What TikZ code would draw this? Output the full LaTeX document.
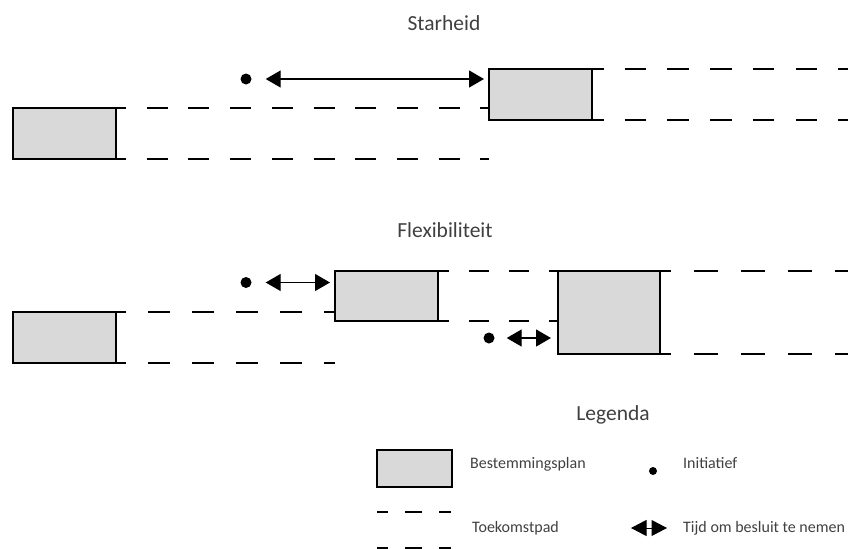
\documentclass[tikz,border=0pt]{standalone}
\usepackage{fontspec}
\setmainfont{Carlito}
\usetikzlibrary{arrows.meta, positioning, calc}
\definecolor{plangray}{RGB}{217,217,217}
\definecolor{textgray}{RGB}{64,64,64}

\begin{document}
\begin{tikzpicture}[x=1pt, y=-1pt,
    plan/.style={draw=black, fill=plangray, line width=1.4pt, inner sep=0pt, outer sep=0pt, minimum width=103pt, minimum height=51pt},
    pad/.style={line width=1.3pt},
    initiatief/.style={circle, fill=black, inner sep=0pt, minimum size=11pt},
    tijd/.style={<->, >={Triangle[length=15pt, width=17pt]}, line width=1.3pt},
    titel/.style={font=\fontsize{21.5}{26}\selectfont, text=textgray, inner sep=0pt, anchor=base},
    legtekst/.style={font=\fontsize{16}{19}\selectfont, text=textgray, inner sep=0pt, anchor=base west}]
        \useasboundingbox (0,0) rectangle (860,549);

        % Starheid
        \node[titel] (starheid) at (444,30) {Starheid};
        \node[plan] (s1) at (64.5,133.5) {};
        \node[plan] (s2) at (540.5,94.5) {};
        \node[initiatief] (s0) at (246,79) {};
        \coordinate (s1eind) at (489,159);
        \coordinate (s2boven) at (848,69);
        \coordinate (s2onder) at (848,120);

        \draw[tijd, shorten <=14pt, shorten >=5pt] (s0.east) -- (s0 -| s2.west);
        \draw[pad, dash pattern=on 21pt off 20.7pt, dash phase=11pt] (s1.north east) -- (s1.north east -| s2.west);
        \draw[pad, dash pattern=on 21pt off 20.7pt, dash phase=11pt] (s1.south east) -- (s1eind);
        \draw[pad, dash pattern=on 21.5pt off 21.2pt, dash phase=10pt] (s2.north east) -- (s2boven);
        \draw[pad, dash pattern=on 21.5pt off 21.2pt, dash phase=10pt] (s2.south east) -- (s2onder);

        % Flexibiliteit
        \node[titel] (flex) at (445,237) {Flexibiliteit};
        \node[plan] (f1) at (64.5,337.5) {};
        \node[plan, minimum height=50pt] (f2) at (386.5,296) {};
        \node[plan, minimum width=102pt, minimum height=83pt] (f3) at (609,312.5) {};
        \node[initiatief] (f0) at (246,282.5) {};
        \node[initiatief] (g0) at (489,338) {};
        \coordinate (f1eind) at (335,363);
        \coordinate (f3boven) at (848,271);
        \coordinate (f3onder) at (848,354);

        \draw[tijd, shorten <=14pt, shorten >=5pt] (f0.east) -- (f0 -| f2.west);
        \draw[tijd, shorten <=12pt, shorten >=7pt] (g0.east) -- (g0 -| f3.west);
        \draw[pad, dash pattern=on 22pt off 22pt, dash phase=12pt] (f1.north east) -- (f1.north east -| f2.west);
        \draw[pad, dash pattern=on 22pt off 22pt, dash phase=12pt] (f1.south east) -- (f1eind);
        \draw[pad, dash pattern=on 20pt off 20pt, dash phase=9pt] (f2.north east) -- (f3.north west);
        \draw[pad, dash pattern=on 20pt off 20pt, dash phase=9pt] (f2.south east) -- (f2.south east -| f3.west);
        \draw[pad, dash pattern=on 24pt off 23pt, dash phase=13pt] (f3.north east) -- (f3boven);
        \draw[pad, dash pattern=on 24pt off 23pt, dash phase=13pt] (f3.south east) -- (f3onder);

        % Legenda
        \node[titel] (legenda) at (613,420) {Legenda};
        \node[plan, minimum width=75pt, minimum height=37pt] (lplan) at (414.5,468.5) {};
        \node[legtekst] (lplantekst) at (470,468) {Bestemmingsplan};
        \node[initiatief, minimum size=8pt] (linit) at (653,471) {};
        \node[legtekst] (linittekst) at (683,468) {Initiatief};
        \coordinate (lpad1) at (377,512);
        \coordinate (lpad2) at (451,512);
        \coordinate (lpad3) at (377,548);
        \coordinate (lpad4) at (451,548);
        \draw[pad, dash pattern=on 17pt off 17pt, dash phase=6pt] (lpad1) -- (lpad2);
        \draw[pad, dash pattern=on 17pt off 17pt, dash phase=6pt] (lpad3) -- (lpad4);
        \node[legtekst] (lpadtekst) at (472,532) {Toekomstpad};
        \coordinate (ltijd1) at (631,528);
        \coordinate (ltijd2) at (667,528);
        \draw[tijd, >={Triangle[length=15.5pt, width=16pt]}, line width=1pt] (ltijd1) -- (ltijd2);
        \node[legtekst] (ltijdtekst) at (683,532) {Tijd om besluit te nemen};
\end{tikzpicture}
\end{document}
